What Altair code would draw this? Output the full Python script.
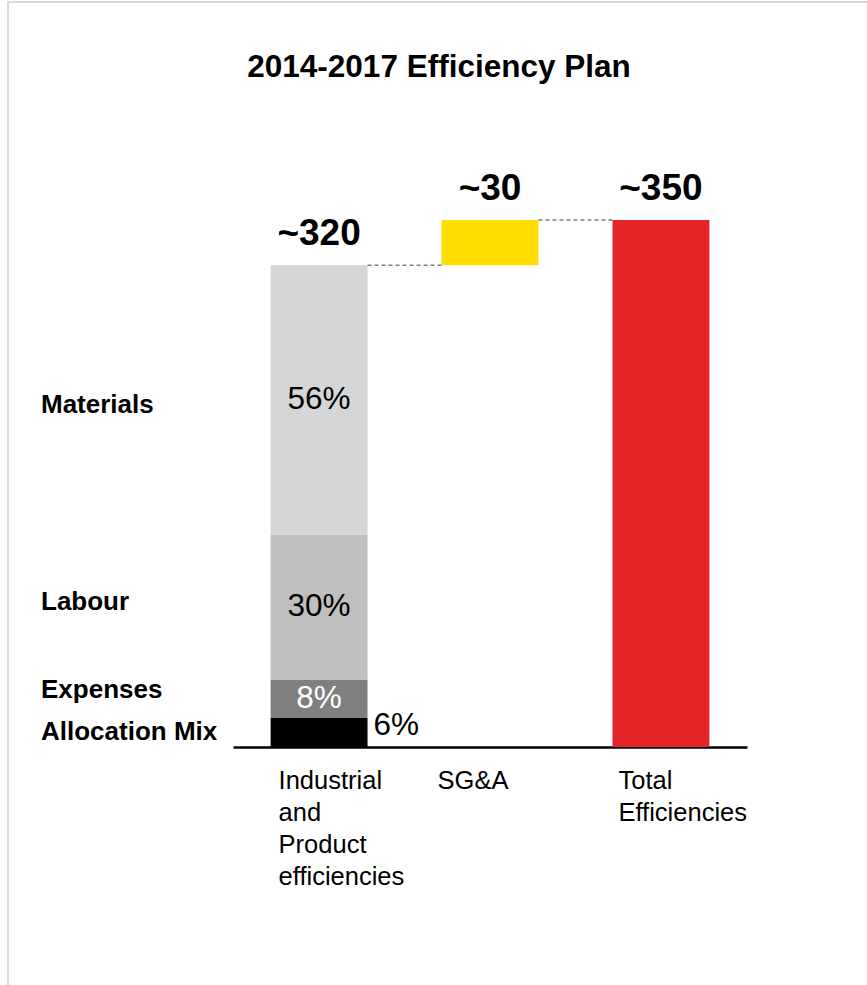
import altair as alt
import pandas as pd

# ---- data ----
categories = ["Industrial and Product efficiencies", "SG&A", "Total Efficiencies"]
category_labels = ["Industrial\nand\nProduct\nefficiencies", "SG&A", "Total\nEfficiencies"]
values = [320, 30, 350]
value_labels = ["~320", "~30", "~350"]
segments = ["Allocation Mix", "Expenses", "Labour", "Materials"]
segment_shares = [6, 8, 30, 56]
title_text = "2014-2017 Efficiency Plan"

FONT = "Liberation Sans"

# ---- build tables ----
bar_rows = []
seg_rows = []
cum = 0.0
for seg, share in zip(segments, segment_shares):
    amt = values[0] * share / 100.0
    bar_rows.append({"cat": categories[0], "start": cum, "end": cum + amt, "part": seg})
    seg_rows.append({"cat": categories[0], "seg": seg, "mid": cum + amt / 2, "label": f"{share}%"})
    cum += amt
bar_rows.append({"cat": categories[1], "start": values[0], "end": values[0] + values[1], "part": "SG&A"})
bar_rows.append({"cat": categories[2], "start": 0, "end": values[2], "part": "Total"})
bars_df = pd.DataFrame(bar_rows)
seg_df = pd.DataFrame(seg_rows)

tops = [values[0], values[0] + values[1], values[2]]
top_df = pd.DataFrame({"cat": categories, "top": tops, "label": value_labels,
                       "catlabel": category_labels, "zero": [0, 0, 0]})
conn_df = pd.DataFrame({"cat": categories[:2], "next": categories[1:], "level": tops[:2]})

xscale = alt.Scale(domain=categories, paddingInner=0.433, paddingOuter=0.22)
yscale = alt.Scale(domain=[0, 350], nice=False, zero=True)

color_scale = alt.Scale(
    domain=segments + ["SG&A", "Total"],
    range=["#000000", "#808080", "#BFBFBF", "#D5D6D8", "#FFDD00", "#E32528"],
)

bars = alt.Chart(bars_df).mark_bar().encode(
    x=alt.X("cat:N", scale=xscale, sort=categories,
            axis=alt.Axis(labels=False, ticks=False, title=None, grid=False,
                          domainColor="black", domainWidth=2.5)),
    y=alt.Y("start:Q", scale=yscale, axis=None),
    y2="end:Q",
    color=alt.Color("part:N", scale=color_scale, legend=None),
)

connectors = alt.Chart(conn_df).mark_rule(
    color="#7F7F7F", strokeWidth=1.5, strokeDash=[4, 3]
).encode(
    x=alt.X("cat:N", scale=xscale, sort=categories, bandPosition=1),
    x2=alt.X2("next:N", bandPosition=0),
    y=alt.Y("level:Q", scale=yscale),
)

top_labels = alt.Chart(top_df).mark_text(
    font=FONT, fontSize=37, fontWeight="bold", color="black",
    baseline="alphabetic", dy=-20
).encode(
    x=alt.X("cat:N", scale=xscale, sort=categories),
    y=alt.Y("top:Q", scale=yscale),
    text="label:N",
)

# category labels under the axis, left-aligned near each bar's left edge
cat_dx = {categories[0]: 8, categories[1]: -4, categories[2]: 6}
cat_layers = []
for cat in categories:
    cat_layers.append(
        alt.Chart(top_df[top_df["cat"] == cat]).mark_text(
            font=FONT, fontSize=25.5, color="black", align="left", baseline="top",
            lineBreak="\n", lineHeight=32, dx=cat_dx[cat], dy=22
        ).encode(
            x=alt.X("cat:N", scale=xscale, sort=categories, bandPosition=0),
            y=alt.Y("zero:Q", scale=yscale),
            text="catlabel:N",
        )
    )

# percentage labels inside the stacked bar
inside = seg_df[seg_df["seg"] != "Allocation Mix"]
pct_in = alt.Chart(inside).mark_text(
    font=FONT, fontSize=31.5, baseline="middle"
).encode(
    x=alt.X("cat:N", scale=xscale, sort=categories),
    y=alt.Y("mid:Q", scale=yscale),
    text="label:N",
    color=alt.condition(alt.datum.seg == "Expenses", alt.value("white"), alt.value("black")),
)
pct_out = alt.Chart(seg_df[seg_df["seg"] == "Allocation Mix"]).mark_text(
    font=FONT, fontSize=31.5, baseline="middle", align="left", dx=6, dy=-7, color="black"
).encode(
    x=alt.X("cat:N", scale=xscale, sort=categories, bandPosition=1),
    y=alt.Y("mid:Q", scale=yscale),
    text="label:N",
)

# left-hand segment names
nudges = {"Materials": 5, "Labour": -5, "Expenses": -9, "Allocation Mix": -1}
side_layers = []
for seg in segments:
    side_layers.append(
        alt.Chart(seg_df[seg_df["seg"] == seg]).mark_text(
            font=FONT, fontSize=26, fontWeight="bold", align="left",
            baseline="middle", color="black", dy=nudges[seg]
        ).encode(
            x=alt.value(-192),
            y=alt.Y("mid:Q", scale=yscale),
            text="seg:N",
        )
    )

title = alt.Chart(pd.DataFrame({"t": [title_text]})).mark_text(
    font=FONT, fontSize=31.5, fontWeight="bold", color="black", baseline="alphabetic"
).encode(x=alt.value(206), y=alt.value(-143), text="t:N")

frame = alt.Chart(pd.DataFrame({"f": [1]})).mark_rect(
    fill=None, stroke="#DADADA", strokeWidth=2
).encode(x=alt.value(-225), y=alt.value(-218), x2=alt.value(900), y2=alt.value(1000))

chart = alt.layer(
    frame, bars, connectors, top_labels, *cat_layers, pct_in, pct_out, *side_layers, title
).properties(
    width=514, height=527,
    autosize=alt.AutoSizeParams(type="none"),
    padding={"left": 233, "top": 220, "right": 120, "bottom": 238},
    background="white",
).configure_view(stroke=None)

chart.save("out.html", embed_options={"renderer": "svg", "actions": False})
